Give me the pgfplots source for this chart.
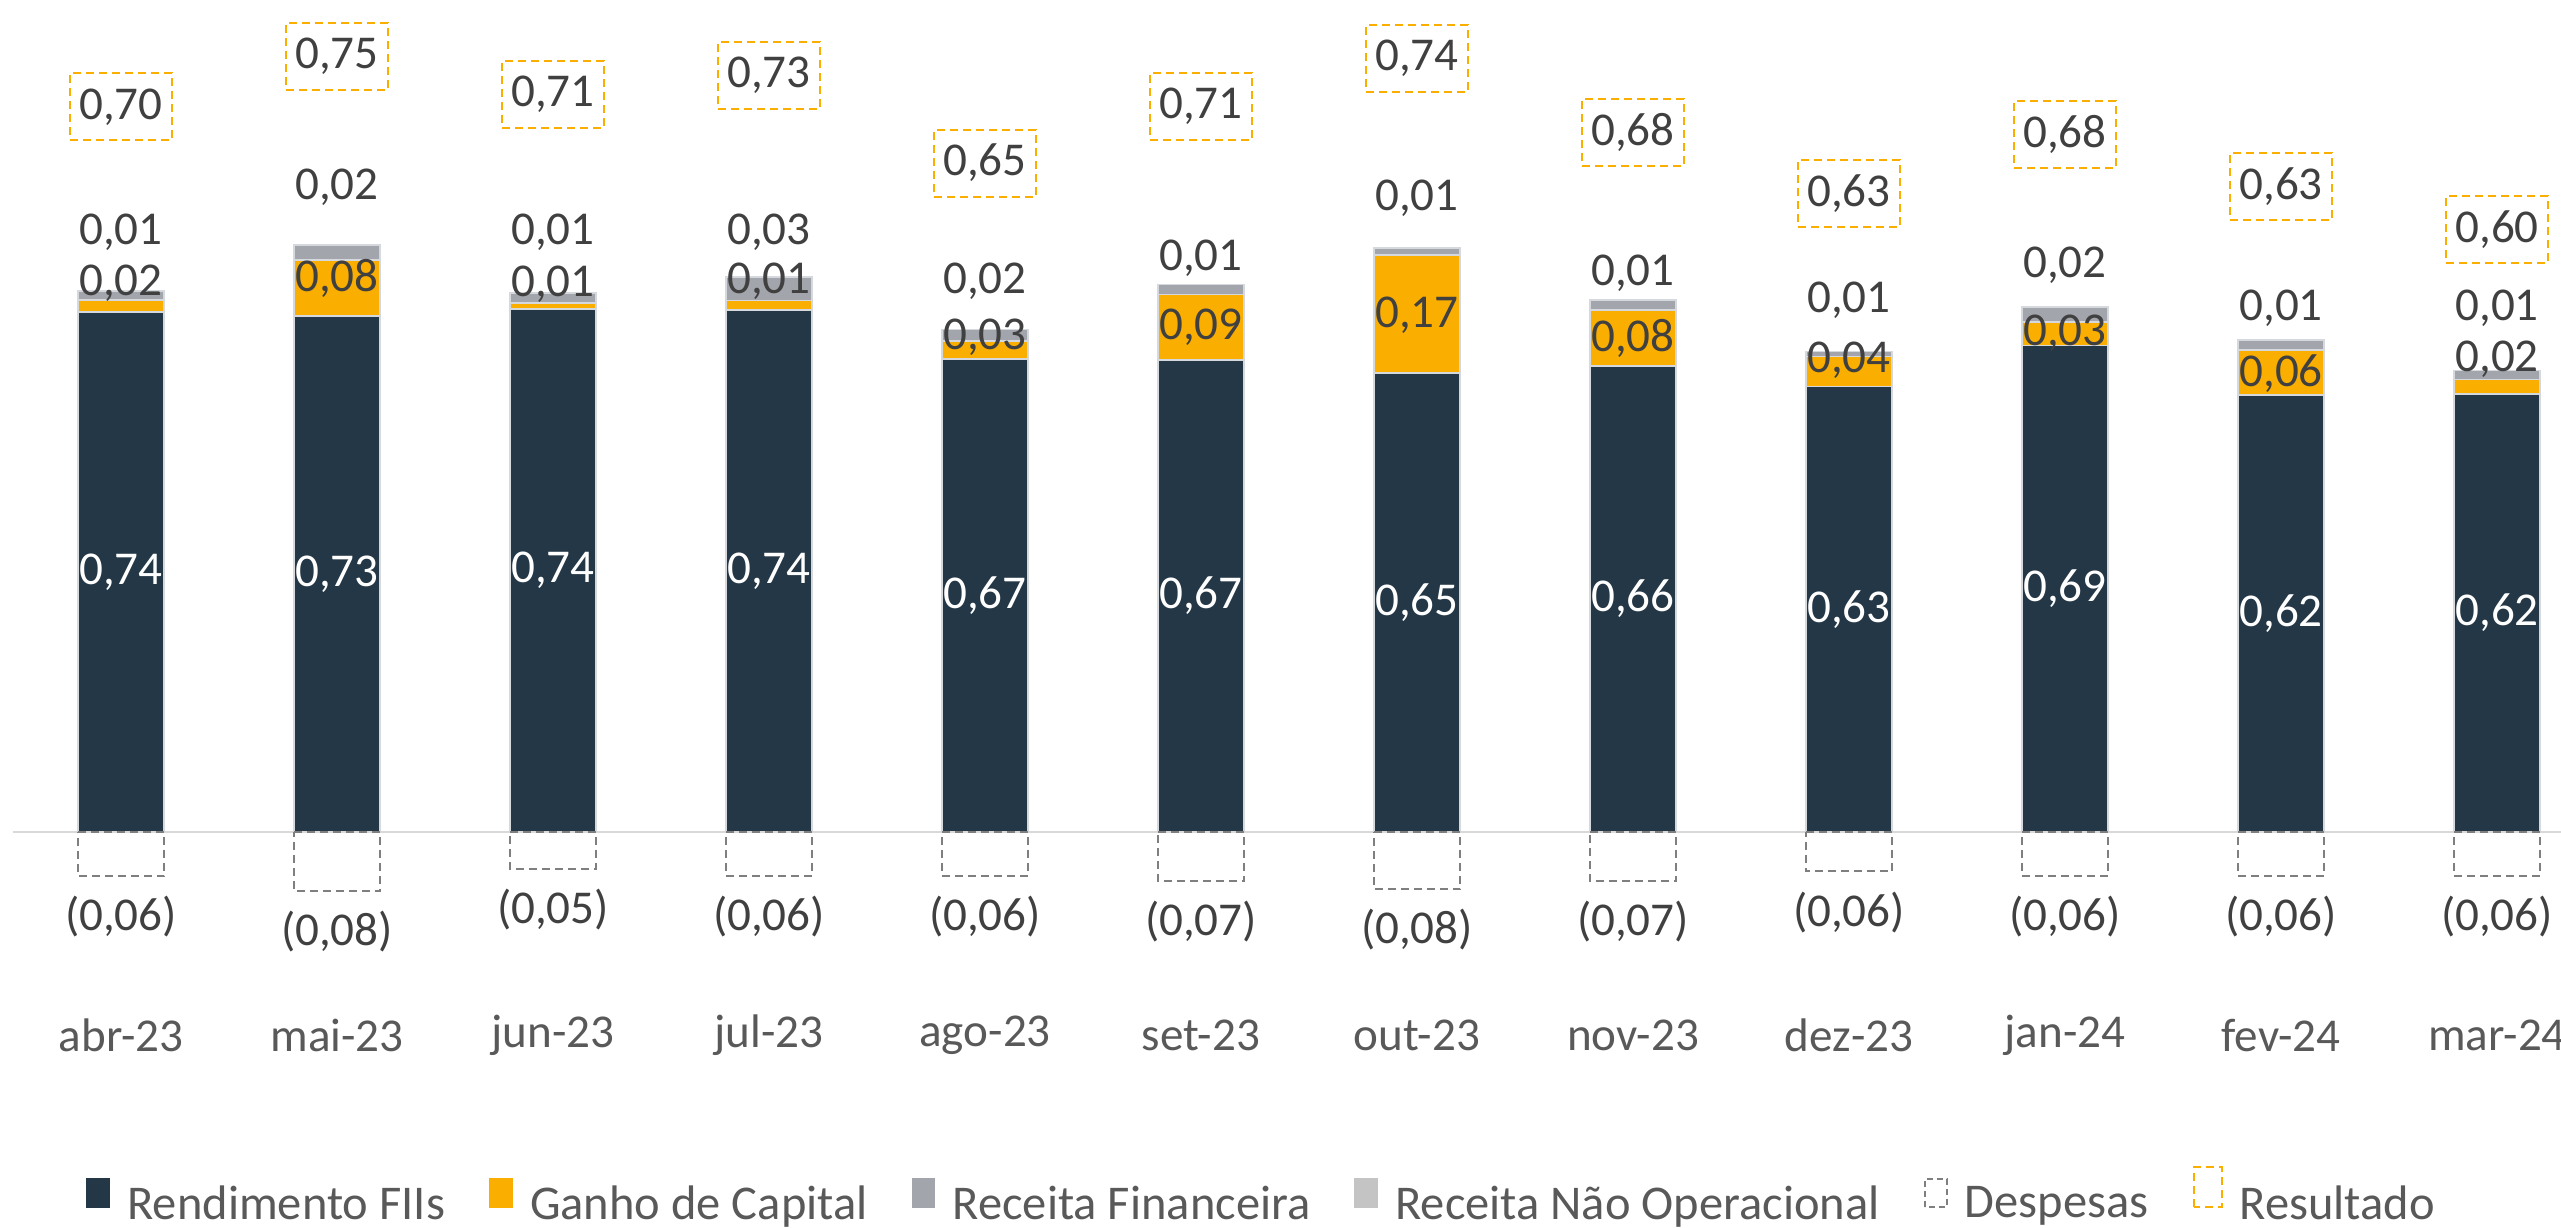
\documentclass[border=0pt]{standalone}
\usepackage{fontspec}
\setmainfont{Carlito}
\usepackage{pgfplots}
\usepackage{pgfplotstable}
\pgfplotsset{compat=1.18}
\definecolor{navy}{HTML}{243746}
\definecolor{gold}{HTML}{FAAF00}
\definecolor{fingray}{HTML}{A2A5AB}
\definecolor{nopgray}{HTML}{C4C4C4}
\definecolor{despgray}{HTML}{7F7F7F}
\definecolor{axisgray}{HTML}{D9D9D9}
\definecolor{lbl}{HTML}{404040}
\definecolor{monthc}{HTML}{595959}
\definecolor{barline}{HTML}{D5D8DC}
\newcommand\lblfont{\fontsize{13.4}{16}\selectfont}
\newcommand\legfont{\fontsize{13.8}{16}\selectfont}
\pgfkeys{/pgf/number format/.cd,fixed,fixed zerofill,precision=2,use comma,assume math mode=true}

\pgfplotstableread{
x rend ganho fin desp res resy finy gy month
0 0.740 0.017 0.013 0.063 0.70 1.032 0.854 0.781 abr-23
1 0.734 0.080 0.021 0.084 0.75 1.104 0.918 0.788 mai-23
2 0.744 0.009 0.014 0.052 0.71 1.050 0.854 0.780 jun-23
3 0.743 0.013 0.034 0.062 0.73 1.077 0.854 0.784 jul-23
4 0.673 0.026 0.016 0.062 0.65 0.952 0.784 0.704 ago-23
5 0.672 0.093 0.014 0.070 0.71 1.033 0.817 0.719 set-23
6 0.653 0.168 0.010 0.081 0.74 1.101 0.902 0.736 out-23
7 0.663 0.080 0.014 0.070 0.68 0.996 0.795 0.703 nov-23
8 0.634 0.043 0.007 0.056 0.63 0.908 0.757 0.672 dez-23
9 0.692 0.034 0.021 0.062 0.68 0.992 0.807 0.710 jan-24
10 0.622 0.064 0.014 0.062 0.63 0.919 0.746 0.652 fev-24
11 0.623 0.021 0.013 0.062 0.60 0.857 0.746 0.673 mar-24
}\data

\pgfplotsset{
  base/.style={scale only axis, width=25.61cm, height=12.27cm,
    xmin=-0.5602, xmax=11.2963, ymin=-0.5621, ymax=1.1840,
    hide axis, clip=false},
  lab/.style={draw=none, mark=none, nodes near coords, point meta=explicit,
    every node near coord/.append style={anchor=center, font=\lblfont, text=lbl}},
}

\begin{document}
\begin{tikzpicture}
\useasboundingbox (0,0) rectangle (25.61cm,12.27cm);
\begin{axis}[base, ybar stacked, bar width=0.4,
  legend columns=6,
  legend style={at={(0.4947,0.023)}, anchor=center, draw=none, fill=none,
    font=\legfont, text=monthc, nodes={inner xsep=1.25mm},
    /tikz/every even column/.append style={column sep=3.15mm}}]
\addplot[fill=navy, draw=barline, line width=0.15mm,
  legend image code/.code={\fill[navy] (0,-0.2mm) rectangle (2.2mm,2.6mm); \path (2.7mm,0);}]
  table[x=x,y=rend]{\data};
\addlegendentry{Rendimento FIIs}
\addplot[fill=gold, draw=barline, line width=0.15mm,
  legend image code/.code={\fill[gold] (0,-0.2mm) rectangle (2.2mm,2.6mm); \path (2.7mm,0);}]
  table[x=x,y=ganho]{\data};
\addlegendentry{Ganho de Capital}
\addplot[fill=fingray, draw=barline, line width=0.15mm,
  legend image code/.code={\fill[fingray] (0,-0.2mm) rectangle (2.2mm,2.6mm); \path (2.7mm,0);}]
  table[x=x,y=fin]{\data};
\addlegendentry{Receita Financeira}
\addlegendimage{legend image code/.code={\fill[nopgray] (0,-0.2mm) rectangle (2.2mm,2.6mm); \path (2.7mm,0);}}
\addlegendentry{Receita Não Operacional}
\addlegendimage{legend image code/.code={\draw[despgray, line width=0.2mm, dash pattern=on 0.6mm off 0.4mm] (0,-0.2mm) rectangle (2.2mm,2.6mm); \path (2.7mm,0);}}
\addlegendentry{Despesas}
\addlegendimage{legend image code/.code={\draw[gold, line width=0.2mm, dash pattern=on 0.8mm off 0.5mm] (0,-0.2mm) rectangle (2.8mm,3.8mm); \path (3.3mm,0);}}
\addlegendentry{Resultado}
\end{axis}

\begin{axis}[base]
\addplot[axisgray, line width=0.25mm] coordinates {(-0.5,0) (11.2963,0)};
\addplot[ybar, bar width=0.4, draw=despgray, fill=none, line width=0.2mm,
  dash pattern=on 0.8mm off 0.5mm] table[x=x, y expr=-\thisrow{desp}]{\data};
% Rendimento labels
\addplot[lab, every node near coord/.append style={text=white}]
  table[x=x, y expr=\thisrow{rend}/2, meta=rend]{\data};
% Ganho labels
\addplot[lab] table[x=x, y=gy, meta=ganho]{\data};
% Receita Financeira labels
\addplot[lab] table[x=x, y=finy, meta=fin]{\data};
% Despesas labels
\addplot[lab, nodes near coords={(\pgfmathprintnumber{\pgfplotspointmeta})}]
  table[x=x, y expr=-\thisrow{desp}-0.058, meta=desp]{\data};
% Resultado labels
\addplot[lab, every node near coord/.append style={draw=gold, line width=0.2mm,
  dash pattern=on 0.8mm off 0.5mm, minimum width=10.2mm, minimum height=6.7mm, inner sep=0pt}]
  table[x=x, y=resy, meta=res]{\data};
% Month labels
\addplot[draw=none, mark=none, nodes near coords={\pgfplotspointmeta}, point meta=explicit symbolic,
  every node near coord/.append style={anchor=center, font=\lblfont, text=monthc}]
  table[x=x, y expr=-0.289, meta=month]{\data};
\end{axis}
\end{tikzpicture}
\end{document}
